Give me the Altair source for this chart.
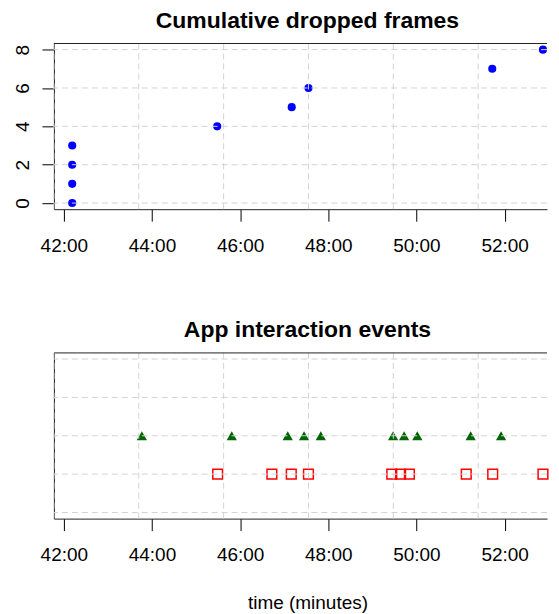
import altair as alt
import pandas as pd

# ---- data ----
drop_time = [42.19, 42.19, 42.19, 42.19, 45.48, 47.17, 47.55, 51.72, 52.87]
drop_count = [0, 1, 2, 3, 4, 5, 6, 7, 8]

tri_time = [43.77, 45.81, 47.08, 47.45, 47.83, 49.47, 49.72, 50.02, 51.23, 51.92]
sq_time = [45.49, 46.72, 47.16, 47.55, 49.44, 49.64, 49.84, 51.13, 51.73, 52.87]
tri_level = 2
sq_level = 1

grid_x = [41.775, 43.70, 45.625, 47.55, 49.475, 51.40]
x_ticks = [42, 44, 46, 48, 50, 52]
top_y_ticks = [0, 2, 4, 6, 8]
bottom_y_grid = [0, 1, 2, 3, 4]

top_title = ["Cumulative dropped frames"]
bottom_title = ["App interaction events"]
x_title = "time (minutes)"

X_DOMAIN = [41.775, 52.962]
TOP_Y_DOMAIN = [-0.32, 8.32]
BOT_Y_DOMAIN = [-0.16, 4.16]
W, H = 494, 166
TITLE_X = 254   # centre of the (wider, cropped) original plot region

FONT = "Liberation Sans"
GRID_COLOR = "#D3D3D3"
GRID_DASH = [6, 4]
BOX = "#222222"

drop_df = pd.DataFrame({"t": drop_time, "n": drop_count})
tri_df = pd.DataFrame({"t": tri_time, "lvl": [tri_level] * len(tri_time)})
sq_df = pd.DataFrame({"t": sq_time, "lvl": [sq_level] * len(sq_time)})
gx_df = pd.DataFrame({"t": grid_x})
gy_top_df = pd.DataFrame({"n": top_y_ticks})
gy_bot_df = pd.DataFrame({"lvl": bottom_y_grid})

xscale = alt.Scale(domain=X_DOMAIN, nice=False, zero=False)
top_yscale = alt.Scale(domain=TOP_Y_DOMAIN, nice=False, zero=False)
bot_yscale = alt.Scale(domain=BOT_Y_DOMAIN, nice=False, zero=False)


def x_axis(title=None):
    kw = dict(
        values=x_ticks,
        labelExpr="datum.value + ':00'",
        grid=False,
        domain=True, domainColor=BOX, domainWidth=1,
        tickSize=12,
        tickColor="#000",
        labelPadding=15,
        labelFontSize=19,
        labelColor="#000",
        labelFont=FONT,
    )
    if title:
        kw.update(title=title, titleFontSize=19, titleFontWeight="normal",
                  titleFont=FONT, titleColor="#000", titleX=TITLE_X, titleY=90,
                  titleAlign="center", titleBaseline="alphabetic", titleAnchor="start")
    else:
        kw.update(title=None)
    return alt.Axis(**kw)


def y_axis(values, visible):
    return alt.Axis(
        values=values, grid=False, domain=True, domainColor=BOX, domainWidth=1,
        tickSize=12, tickColor="#000",
        tickOpacity=1 if visible else 0,
        labelAngle=270, labelAlign="center", labelBaseline="bottom", labelPadding=9,
        labelFontSize=19, labelColor="#000", labelOpacity=1 if visible else 0,
        labelFont=FONT, title=None)


X_TOP = x_axis()
X_BOT = x_axis(x_title)
Y_TOP = y_axis(top_y_ticks, True)
Y_BOT = y_axis(bottom_y_grid, False)

grid_mark = dict(color=GRID_COLOR, strokeDash=GRID_DASH, strokeWidth=1)


def title_layer(text):
    return alt.Chart(pd.DataFrame({"label": text})).mark_text(
        fontSize=23, fontWeight="bold", font=FONT, color="#000",
        align="center", baseline="alphabetic"
    ).encode(text="label:N", x=alt.value(TITLE_X), y=alt.value(-16))


def top_border():
    return alt.Chart(pd.DataFrame({"label": ["box"]})).mark_rule(
        color=BOX, strokeWidth=1
    ).encode(x=alt.value(0), x2=alt.value(W), y=alt.value(0))


# ---------------- top panel ----------------
top_points = alt.Chart(drop_df).mark_circle(size=66, color="#0000FF", opacity=1).encode(
    x=alt.X("t:Q", scale=xscale, axis=X_TOP),
    y=alt.Y("n:Q", scale=top_yscale, axis=Y_TOP),
)
top_vgrid = alt.Chart(gx_df).mark_rule(**grid_mark).encode(
    x=alt.X("t:Q", scale=xscale, axis=X_TOP)
)
top_hgrid = alt.Chart(gy_top_df).mark_rule(**grid_mark).encode(
    y=alt.Y("n:Q", scale=top_yscale, axis=Y_TOP)
)
top = alt.layer(top_points, top_vgrid, top_hgrid, top_border(),
                title_layer(top_title)).properties(width=W, height=H)

# ---------------- bottom panel ----------------
tri = alt.Chart(tri_df).mark_point(shape="triangle-up", filled=True, color="#006400",
                                   size=105, opacity=1).encode(
    x=alt.X("t:Q", scale=xscale, axis=X_BOT),
    y=alt.Y("lvl:Q", scale=bot_yscale, axis=Y_BOT),
)
sq = alt.Chart(sq_df).mark_point(shape="square", filled=False, color="#FF0000",
                                 size=95, strokeWidth=1.5, opacity=1).encode(
    x=alt.X("t:Q", scale=xscale, axis=X_BOT),
    y=alt.Y("lvl:Q", scale=bot_yscale, axis=Y_BOT),
)
bot_vgrid = alt.Chart(gx_df).mark_rule(**grid_mark).encode(
    x=alt.X("t:Q", scale=xscale, axis=X_BOT)
)
bot_hgrid = alt.Chart(gy_bot_df).mark_rule(**grid_mark).encode(
    y=alt.Y("lvl:Q", scale=bot_yscale, axis=Y_BOT)
)
bottom = alt.layer(tri, sq, bot_vgrid, bot_hgrid, top_border(),
                   title_layer(bottom_title)).properties(width=W, height=H)

chart = alt.vconcat(top, bottom, spacing=64).properties(
    padding={"left": 6, "top": 1, "right": 0, "bottom": 0},
    background="white",
).configure_view(
    stroke=None
)

chart.save("out.html", embed_options={"renderer": "svg", "actions": False})
